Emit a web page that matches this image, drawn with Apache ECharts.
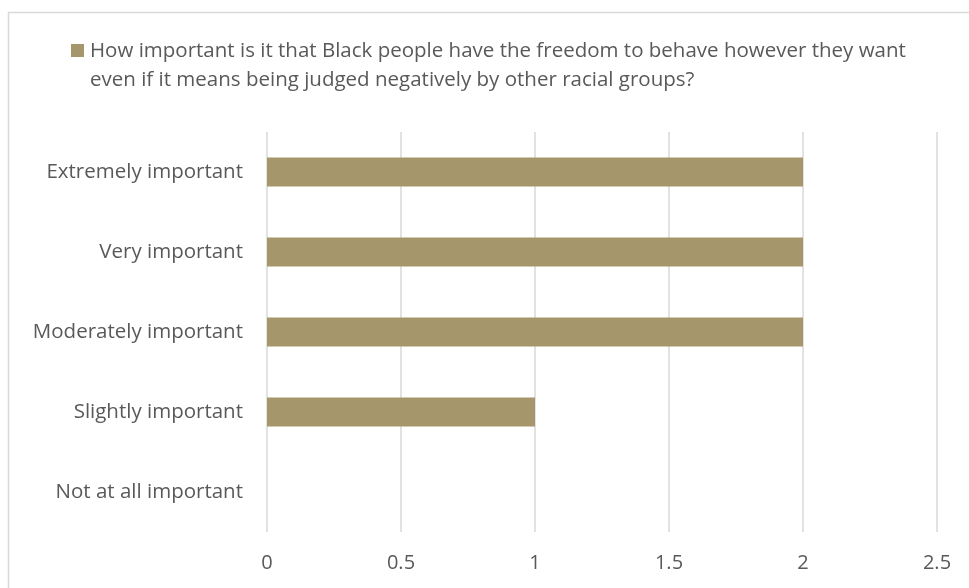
<!DOCTYPE html>
<html>
<head>
<meta charset="utf-8">
<script src="https://cdn.jsdelivr.net/npm/echarts@6/dist/echarts.min.js"></script>
<style>
  html, body { margin: 0; padding: 0; background: #fff; }
  #chart { width: 969px; height: 588px; }
</style>
</head>
<body>
<div id="chart"></div>
<script>
// Survey responses, listed bottom to top as they appear on the category axis
const categories = [
  'Not at all important',
  'Slightly important',
  'Moderately important',
  'Very important',
  'Extremely important'
];
const counts = [0, 1, 2, 2, 2];
const seriesName = 'How important is it that Black people have the freedom to behave however they want even if it means being judged negatively by other racial groups?';
const legendLines = [
  'How important is it that Black people have the freedom to behave however they want',
  'even if it means being judged negatively by other racial groups?'
];
const xTicks = [0, 0.5, 1, 1.5, 2, 2.5];

const FONT = '"Open Sans", sans-serif';
const TEXT = '#595959';
const BAR = '#a6966b';

const chart = echarts.init(document.getElementById('chart'), null, { renderer: 'canvas' });

chart.setOption({
  backgroundColor: '#ffffff',
  animation: false,
  grid: { left: 267, right: 32, top: 132, bottom: 56, containLabel: false },
  xAxis: {
    type: 'value',
    min: xTicks[0],
    max: xTicks[xTicks.length - 1],
    interval: 0.5,
    axisLine: { show: false },
    axisTick: { show: false },
    splitLine: { show: true, lineStyle: { color: '#d9d9d9', width: 1.5 } },
    axisLabel: {
      color: TEXT, fontFamily: FONT, fontSize: 20, margin: 21,
      formatter: v => String(v)
    }
  },
  yAxis: {
    type: 'category',
    data: categories,
    axisLine: { show: false },
    axisTick: { show: false },
    splitLine: { show: false },
    axisLabel: { color: TEXT, fontFamily: FONT, fontSize: 20.5, margin: 24 }
  },
  series: [{
    name: seriesName,
    type: 'bar',
    data: counts,
    barWidth: 29,
    itemStyle: { color: BAR }
  }],
  graphic: [
    {
      type: 'rect',
      shape: { x: 8.5, y: 12.5, width: 1000, height: 700 },
      style: { fill: 'none', stroke: '#d9d9d9', lineWidth: 1.5 },
      silent: true
    },
    {
      type: 'rect',
      shape: { x: 71, y: 44, width: 13, height: 13 },
      style: { fill: BAR }
    },
    {
      type: 'text',
      x: 90, y: 36.5,
      style: {
        text: legendLines.join('\n'),
        fill: TEXT,
        font: '20.5px ' + FONT,
        lineHeight: 29,
        verticalAlign: 'top'
      }
    }
  ]
});
</script>
</body>
</html>
